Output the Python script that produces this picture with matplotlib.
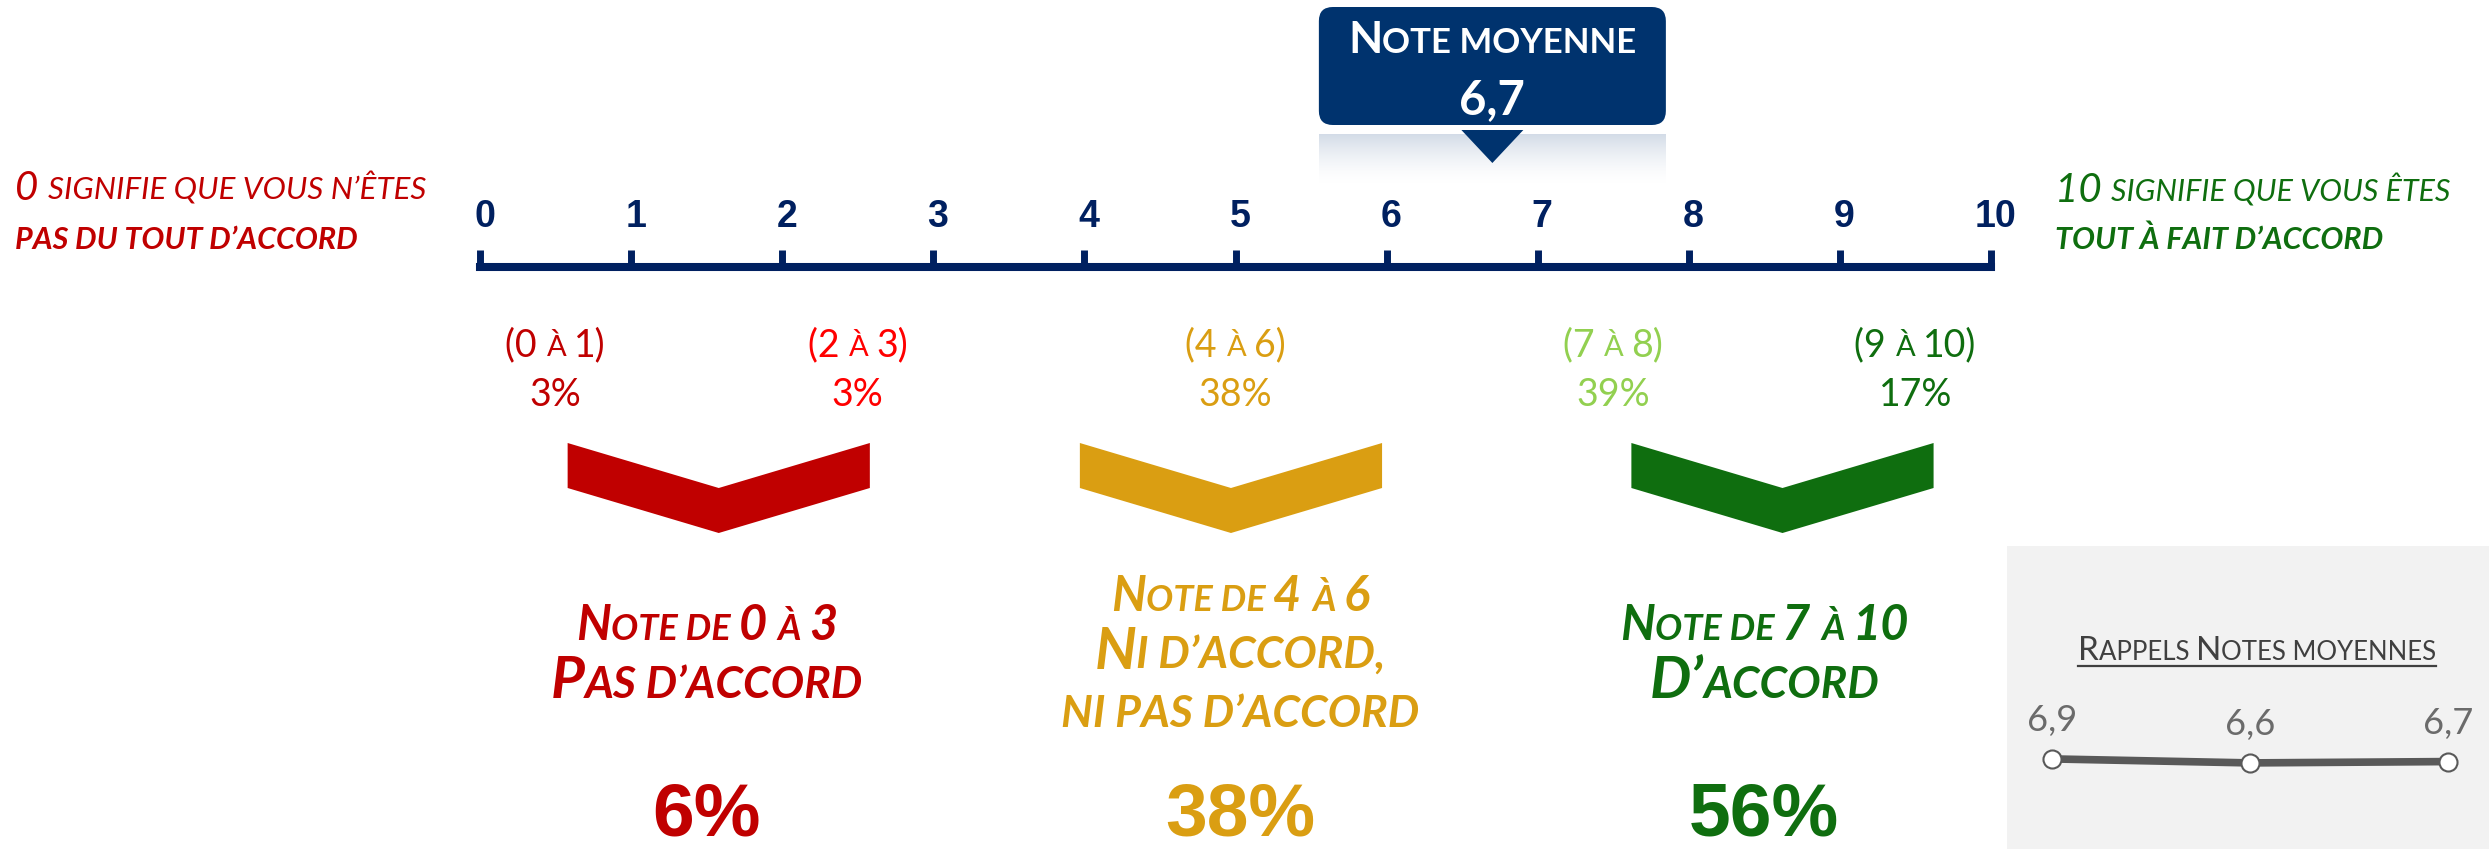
import numpy as np
import matplotlib
matplotlib.use('Agg')
import matplotlib.pyplot as plt
import matplotlib.patches as mpatches
import matplotlib.transforms as mtransforms
from matplotlib.font_manager import FontProperties

# Data
scale_ticks = list(range(0, 11))
mean_score = 6.7
range_bounds = [(0, 1), (2, 3), (4, 6), (7, 8), (9, 10)]
range_pcts = [3, 3, 38, 39, 17]
group_bounds = [(0, 3), (4, 6), (7, 10)]
group_titles = [['Note de 0 à 3', 'Pas d’accord'],
                ['Note de 4 à 6', 'Ni d’accord,', 'ni pas d’accord'],
                ['Note de 7 à 10', 'D’accord']]
group_pcts = [6, 38, 56]
history_values = [6.9, 6.6, 6.7]

# Colours
navy = '#002060'
callout_blue = '#00336E'
range_colors = ['#C00000', '#FF0000', '#DA9E12', '#92D050', '#0F6E0F']
group_colors = ['#C00000', '#DA9E12', '#0F6E0F']

# Layout (pixels of the 2489x849 picture)
W, H = 2489, 849
X0, S = 480, 151.1          # pixel of score 0, pixels per score unit
SANS = ['Lato', 'DejaVu Sans']
ARIAL = ['Liberation Sans', 'DejaVu Sans']

fig = plt.figure(figsize=(W / 100, H / 100), dpi=100)
ax = fig.add_axes([0, 0, 1, 1])
ax.set_xlim(-X0 / S, (W - X0) / S)
ax.set_ylim(H, 0)
ax.axis('off')

pix = mtransforms.Affine2D().scale(1, -1).translate(0, H)  # pixels, y from top
renderer = fig.canvas.get_renderer()


def advance(txt, fp):
    w1 = renderer.get_text_width_height_descent('x' + txt + 'x', fp, ismath=False)[0]
    w0 = renderer.get_text_width_height_descent('xx', fp, ismath=False)[0]
    return w1 - w0


def sc_text(x, y, s, big, small, transform, ha='center', family=SANS,
            weight='normal', style='normal', color='k', axes=ax):
    # fake small caps: lower case letters drawn as smaller capitals
    runs = []
    for ch in s:
        if ch.isalpha():
            kind = small if ch.islower() else big
        elif ch.isdigit():
            kind = big
        else:
            kind = runs[-1][1] if runs else big
        if runs and runs[-1][1] == kind:
            runs[-1][0] += ch.upper()
        else:
            runs.append([ch.upper(), kind])
    props = [FontProperties(family=family, size=sz, weight=weight, style=style)
             for _, sz in runs]
    widths = [advance(r[0], fp) for r, fp in zip(runs, props)]
    total = sum(widths)
    off = {'left': 0, 'center': -total / 2, 'right': -total}[ha]
    start = off
    for (txt, _), fp, w in zip(runs, props, widths):
        tr = mtransforms.offset_copy(transform, fig=fig, x=off, y=0, units='dots')
        axes.text(x, y, txt, transform=tr, fontproperties=fp, color=color,
                  ha='left', va='baseline', zorder=4)
        off += w
    return start, total


# Scale line and ticks
ax.plot([scale_ticks[0], scale_ticks[-1]], [267, 267], color=navy, lw=5.8,
        solid_capstyle='projecting')
ax.vlines(scale_ticks, 250, 267, color=navy, lw=5)
for t in scale_ticks:
    ax.text(t + 0.03, 227, str(t), ha='center', va='baseline', fontsize=27,
            fontweight='bold', family=ARIAL, color=navy)

# End labels
sc_text(15, 200, '0 signifie que vous n’êtes', 29, 22.6, pix, ha='left',
        style='italic', color='#C00000')
ax.text(15, 249, 'PAS DU TOUT D’ACCORD', transform=pix, fontsize=22,
        fontweight='bold', style='italic', family=SANS, color='#C00000',
        va='baseline')
sc_text(2055, 202, '10 signifie que vous êtes', 29, 22, pix, ha='left',
        style='italic', color='#0F6E0F')
ax.text(2055, 249, 'TOUT À FAIT D’ACCORD', transform=pix, fontsize=22,
        fontweight='bold', style='italic', family=SANS, color='#0F6E0F',
        va='baseline')

# Callout with the mean score
cx = ax.transData.transform((mean_score, 0))[0]
box = mpatches.FancyBboxPatch((cx - 173.5, 7), 347, 118,
                              boxstyle='round,pad=0,rounding_size=14',
                              transform=pix, fc=callout_blue, ec='none', zorder=3)
ax.add_patch(box)
grad = np.zeros((60, 1, 4))
grad[..., :3] = (0.78, 0.82, 0.88)
grad[:, 0, 3] = np.linspace(0.85, 0, 60) ** 1.6
ax.imshow(grad, extent=(mean_score - 1.148, mean_score + 1.148, 185, 134),
          aspect='auto', zorder=1, interpolation='bilinear')
ax.set_xlim(-X0 / S, (W - X0) / S)
ax.set_ylim(H, 0)
ax.fill([mean_score - 0.205, mean_score + 0.205, mean_score], [130, 130, 163],
        color=callout_blue, lw=0, zorder=3)
sc_text(cx, 53, 'Note moyenne', 32, 25, pix, weight='bold', color='white')
ax.text(cx, 114, f'{mean_score:.1f}'.replace('.', ','), transform=pix,
        fontsize=34, fontweight='bold', family=SANS, color='white',
        ha='center', va='baseline', zorder=4)

# Detailed ranges
for (lo, hi), p, c in zip(range_bounds, range_pcts, range_colors):
    mid = (lo + hi) / 2
    sc_text(mid, 356, f'({lo} à {hi})', 27, 21, ax.transData, color=c)
    ax.text(mid, 406, f'{p}%', ha='center', va='baseline', fontsize=27,
            family=SANS, color=c)

# Groups: chevron, title, total
chevron_nudge = [0.08, -0.03, 0.12]
text_nudge = [0.0, 0.03, 0.0]
for (lo, hi), lines, p, c, cn, tn in zip(group_bounds, group_titles, group_pcts,
                                         group_colors, chevron_nudge, text_nudge):
    mid = (lo + hi) / 2
    m = mid + cn
    ax.fill([m - 1, m, m + 1, m + 1, m, m - 1], [443, 488, 443, 488, 533, 488],
            color=c, lw=0)
    first = 669 - (len(lines) - 1) * 58 / 2
    for k, line in enumerate(lines):
        big, small = (35, 26) if k == 0 else (42, 32)
        sc_text(mid + tn, first + k * 58, line, big, small, ax.transData,
                weight='bold', style='italic', color=c)
    ax.text(mid + tn, 836, f'{p}%', ha='center', va='baseline', fontsize=54,
            fontweight='bold', family=ARIAL, color=c)

# Inset: previous mean scores
ax_in = fig.add_axes([2007 / W, 0, (W - 2007) / W, 303 / H])
ax_in.set_facecolor('#F2F2F2')
for sp in ax_in.spines.values():
    sp.set_visible(False)
ax_in.set_xticks([])
ax_in.set_yticks([])
ax_in.set_xlim(-0.227, 2.207)
ax_in.set_ylim(0.13, 22.9)
ax_in.plot(range(len(history_values)), history_values, color='#595959', lw=5.5,
           marker='o', ms=13, mfc='white', mec='#595959', mew=1.5)
for i, v in enumerate(history_values):
    ax_in.annotate(f'{v:.1f}'.replace('.', ','), (i, v), xytext=(0, 20),
                   textcoords='offset points', ha='center', va='baseline',
                   fontsize=26, family=SANS, color='#6B6B6B')
start, total = sc_text(0.519, 0.624, 'Rappels Notes moyennes', 24, 18.5,
                       ax_in.transAxes, color='#404040', axes=ax_in)
ax0, ay0 = ax_in.transAxes.transform((0.519, 0.624))
fig.add_artist(plt.Line2D([ax0 + start, ax0 + start + total], [ay0 - 6, ay0 - 6],
                          transform=mtransforms.IdentityTransform(),
                          color='#404040', lw=1.6))

fig.savefig('out.png', dpi=100)
